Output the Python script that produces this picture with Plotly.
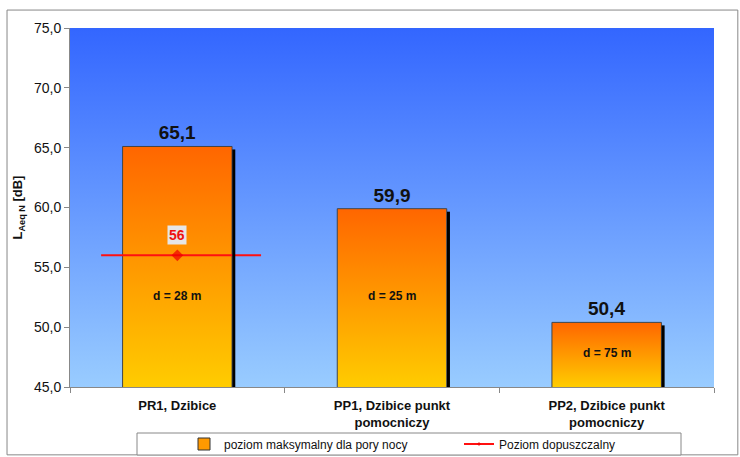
import base64
import plotly.graph_objects as go

# Measurement points and night-time maximum levels
categories = ["PR1, Dzibice", "PP1, Dzibice punkt<br>pomocniczy", "PP2, Dzibice punkt<br>pomocniczy"]
levels = [65.1, 59.9, 50.4]
distances = ["d = 28 m", "d = 25 m", "d = 75 m"]
distance_label_y = [52.6, 52.6, 47.8]

# Permissible level line
limit_x = [-0.355, 0.0, 0.39]
limit_y = [56, 56, 56]
limit_value = 56

y_min, y_max = 45, 75
bar_width = 0.51
x_pos = list(range(len(categories)))
FONT = "Arial, Liberation Sans, sans-serif"


def gradient_uri(top, bottom):
    svg = (
        '<svg xmlns="http://www.w3.org/2000/svg" width="10" height="100" '
        'preserveAspectRatio="none"><defs><linearGradient id="g" x1="0" y1="0" '
        f'x2="0" y2="1"><stop offset="0" stop-color="{top}"/><stop offset="1" '
        f'stop-color="{bottom}"/></linearGradient></defs>'
        '<rect width="10" height="100" fill="url(#g)"/></svg>'
    )
    return "data:image/svg+xml;base64," + base64.b64encode(svg.encode()).decode()


sky = gradient_uri("#3366ff", "#99ccff")
flame = gradient_uri("#ff6600", "#ffcc00")

fig = go.Figure()

# Bars: transparent fill (gradient supplied by images), dark outline, value labels
fig.add_trace(go.Bar(
    x=x_pos, y=levels, width=bar_width,
    marker=dict(color="rgba(0,0,0,0)", line=dict(color="#444444", width=1)),
    text=["<b>" + f"{v:.1f}".replace(".", ",") + "</b>" for v in levels],
    textposition="outside", cliponaxis=False,
    textfont=dict(family=FONT, size=19, color="#111111"),
    showlegend=False, hoverinfo="skip",
))

# Legend entry for bars
fig.add_trace(go.Bar(
    x=[None], y=[None], name="poziom maksymalny dla pory nocy",
    marker=dict(color="#ff9900", line=dict(color="#333333", width=1)),
))

# Permissible level
fig.add_trace(go.Scatter(
    x=limit_x, y=limit_y, mode="lines+markers", name="Poziom dopuszczalny",
    line=dict(color="#ff1010", width=2),
    marker=dict(symbol="diamond", size=[0, 9, 0], color="#ee0000",
                line=dict(color="#ee0000", width=0)),
    cliponaxis=False,
))

images = [dict(
    source=sky, xref="paper", yref="paper", x=0, y=1, sizex=1, sizey=1,
    sizing="stretch", layer="below", xanchor="left", yanchor="top",
)]
for xi, v in zip(x_pos, levels):
    images.append(dict(
        source=flame, xref="x", yref="y", x=xi - bar_width / 2, y=v,
        sizex=bar_width, sizey=v - y_min, sizing="stretch", layer="below",
        xanchor="left", yanchor="top",
    ))

annotations = []
for xi, d, dy in zip(x_pos, distances, distance_label_y):
    annotations.append(dict(
        x=xi, y=dy, xref="x", yref="y", text=f"<b>{d}</b>", showarrow=False,
        font=dict(family=FONT, size=12, color="#111111"),
    ))
annotations.append(dict(
    x=limit_x[1], y=limit_value, xref="x", yref="y", text=f"<b>{limit_value}</b>",
    showarrow=False, yshift=20, bgcolor="#e6e6e6", borderpad=1,
    font=dict(family=FONT, size=14, color="#ee1111"),
))

# Bar drop shadows on the right edge, plus frame and legend box
shapes = []
for xi, v in zip(x_pos, levels):
    shapes.append(dict(
        type="line", xref="x", yref="y",
        x0=xi + bar_width / 2 + 0.008, x1=xi + bar_width / 2 + 0.008,
        y0=y_min, y1=v - 0.25, line=dict(color="#000000", width=3),
    ))
shapes.append(dict(
    type="rect", xref="paper", yref="paper", x0=-0.0978, x1=1.037,
    y0=-0.189, y1=1.05, line=dict(color="#888888", width=1),
    fillcolor="rgba(0,0,0,0)", layer="below",
))
shapes.append(dict(
    type="rect", xref="paper", yref="paper", x0=(137 - 70) / 644, x1=(681 - 70) / 644,
    y0=(387 - 455) / 359, y1=(387 - 433) / 359, line=dict(color="#888888", width=1),
    fillcolor="white", layer="below",
))

fig.update_layout(
    width=740, height=457,
    margin=dict(l=70, r=26, t=28, b=70, autoexpand=False),
    paper_bgcolor="white", plot_bgcolor="#99ccff",
    separators=",.",
    barmode="overlay",
    font=dict(family=FONT, size=13, color="#111111"),
    images=images,
    annotations=annotations,
    shapes=shapes,
    showlegend=True,
    legend=dict(
        orientation="h", x=(184 - 70) / 644, y=(387 - 444) / 359,
        xanchor="left", yanchor="middle",
        borderwidth=0, bgcolor="rgba(0,0,0,0)",
        font=dict(family=FONT, size=12, color="#111111"),
        itemwidth=30, entrywidth=230,
    ),
)

fig.update_xaxes(
    range=[-0.5, 2.5], tickvals=x_pos, ticktext=[f"<b>{c}</b>" for c in categories],
    ticks="", showgrid=False, zeroline=False, ticklabelstandoff=6,
    showline=True, linecolor="#888888", linewidth=1,
    tickfont=dict(family=FONT, size=13, color="#111111"),
    minor=dict(tickvals=[-0.5, 0.5, 1.5, 2.5], ticks="outside", ticklen=5,
               tickcolor="#888888", showgrid=False),
)
fig.update_yaxes(
    range=[y_min, y_max], dtick=5, tickformat=".1f",
    ticks="outside", ticklen=5, tickcolor="#888888",
    showgrid=False, zeroline=False, showline=True, linecolor="#888888",
    title=dict(text="<b>L<sub>Aeq N</sub> [dB]</b>", standoff=8,
               font=dict(family=FONT, size=13)),
    tickfont=dict(family=FONT, size=14, color="#111111"),
)

fig.write_html("out.html")
